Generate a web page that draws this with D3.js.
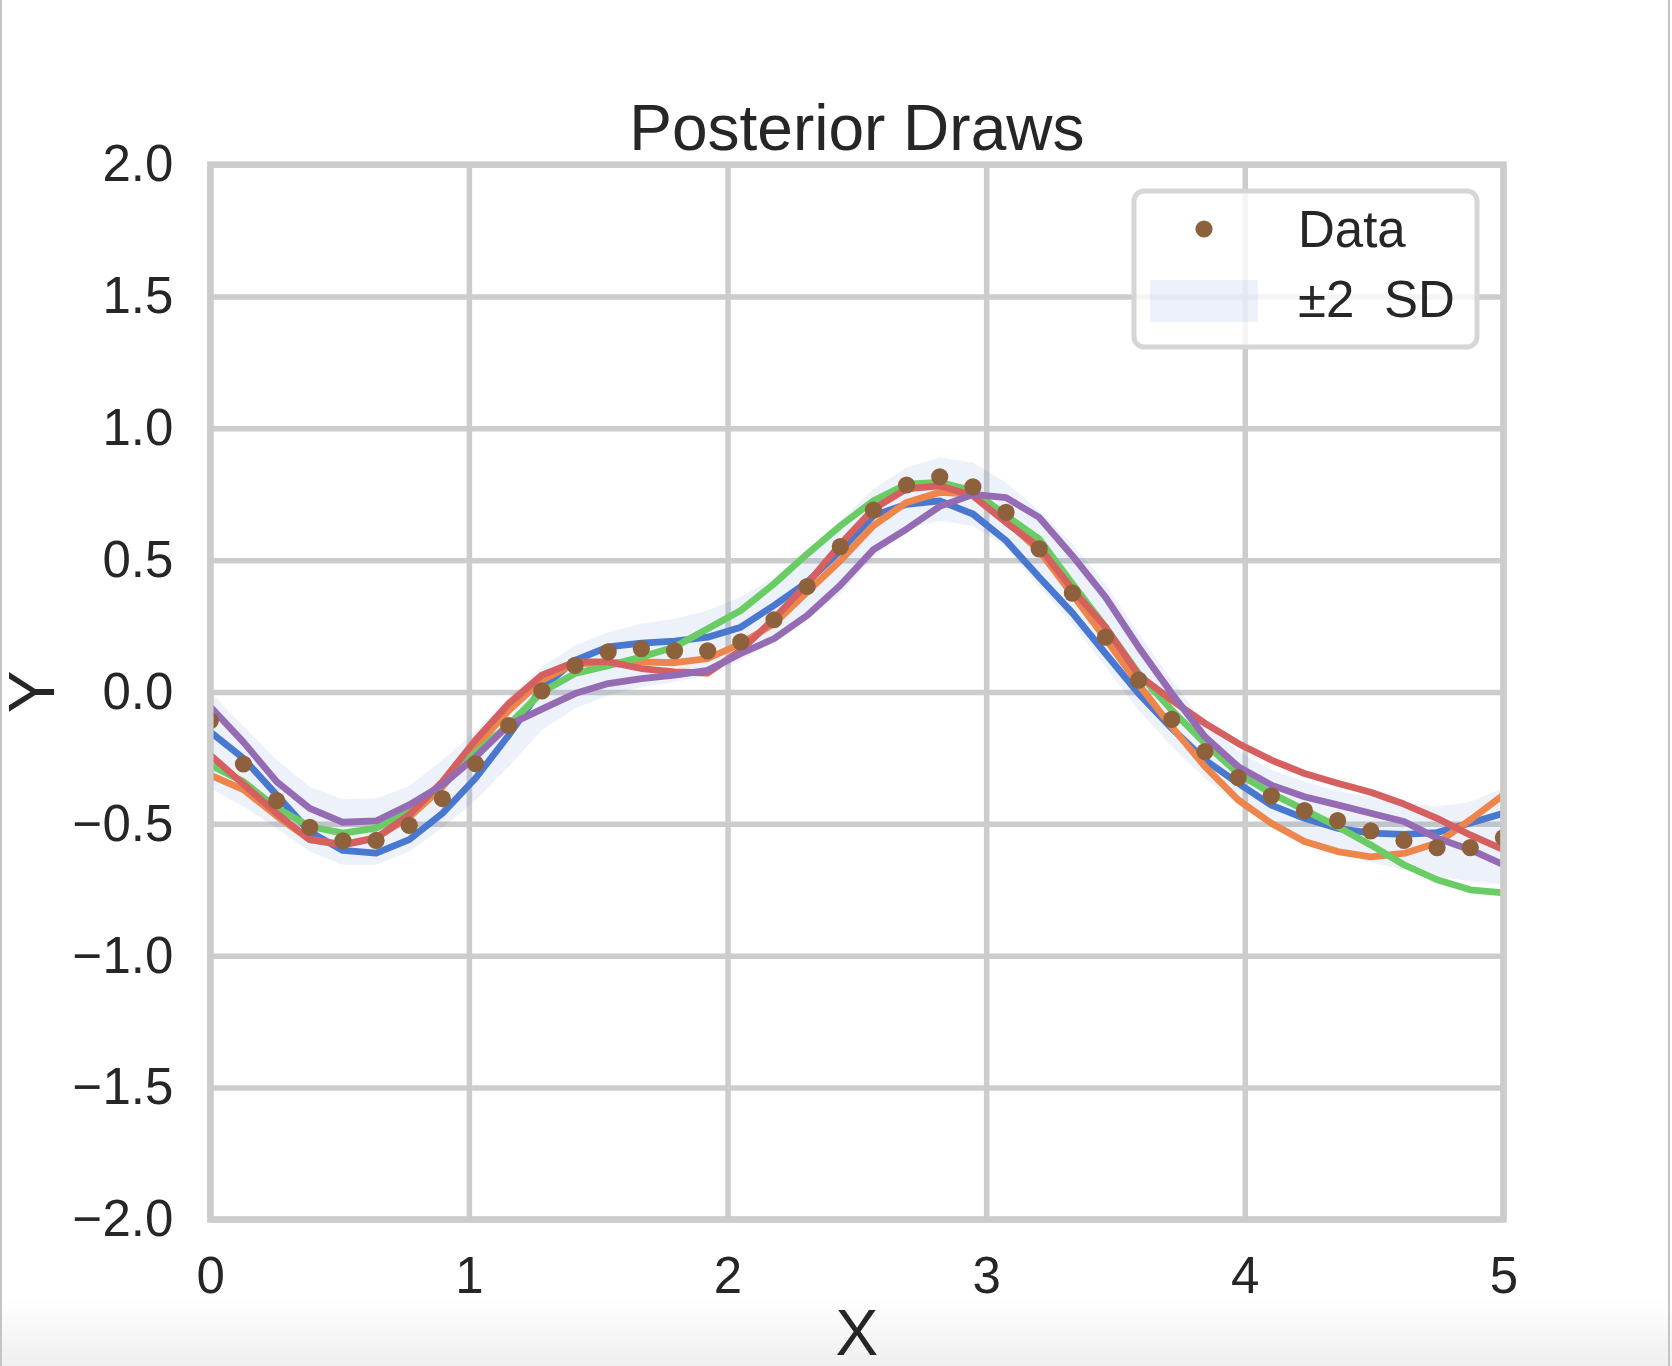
<!DOCTYPE html>
<html>
<head>
<meta charset="utf-8">
<script src="https://cdn.jsdelivr.net/npm/d3@7"></script>
<style>
  html, body { margin: 0; padding: 0; background: #ffffff; }
  svg { display: block; font-family: "Liberation Sans", Arial, Helvetica, sans-serif; }
</style>
</head>
<body>
<svg id="chart" width="1672" height="1366"></svg>
<script>
// ---------------- data ----------------
const xValues = [0.0000, 0.1282, 0.2564, 0.3846, 0.5128, 0.6410, 0.7692, 0.8974, 1.0256, 1.1538,
  1.2821, 1.4103, 1.5385, 1.6667, 1.7949, 1.9231, 2.0513, 2.1795, 2.3077, 2.4359,
  2.5641, 2.6923, 2.8205, 2.9487, 3.0769, 3.2051, 3.3333, 3.4615, 3.5897, 3.7179,
  3.8462, 3.9744, 4.1026, 4.2308, 4.3590, 4.4872, 4.6154, 4.7436, 4.8718, 5.0000];

const dataY = [-0.109, -0.273, -0.412, -0.513, -0.564, -0.563, -0.506, -0.404, -0.272, -0.127,
  0.004, 0.101, 0.152, 0.164, 0.156, 0.156, 0.190, 0.274, 0.400, 0.551,
  0.690, 0.785, 0.816, 0.778, 0.681, 0.543, 0.375, 0.208, 0.045, -0.104,
  -0.226, -0.325, -0.394, -0.450, -0.488, -0.527, -0.563, -0.590, -0.590, -0.552];

const bandUpper = [0.000, -0.130, -0.258, -0.359, -0.407, -0.403, -0.356, -0.258, -0.150, -0.020,
  0.095, 0.177, 0.227, 0.259, 0.278, 0.309, 0.360, 0.435, 0.536, 0.650,
  0.770, 0.851, 0.889, 0.870, 0.794, 0.687, 0.562, 0.410, 0.221, 0.045,
  -0.120, -0.225, -0.295, -0.340, -0.375, -0.400, -0.418, -0.434, -0.416, -0.365];

const bandLower = [-0.365, -0.434, -0.516, -0.605, -0.655, -0.655, -0.605, -0.516, -0.410, -0.283,
  -0.144, -0.063, -0.012, 0.019, 0.038, 0.064, 0.120, 0.190, 0.278, 0.372,
  0.511, 0.618, 0.649, 0.630, 0.549, 0.398, 0.259, 0.095, -0.069, -0.207,
  -0.327, -0.428, -0.510, -0.570, -0.610, -0.645, -0.675, -0.700, -0.718, -0.730];

const drawBlue = [-0.151, -0.252, -0.390, -0.530, -0.601, -0.611, -0.560, -0.460, -0.327, -0.164,
  0.015, 0.120, 0.171, 0.185, 0.193, 0.208, 0.246, 0.328, 0.416, 0.536,
  0.669, 0.712, 0.725, 0.675, 0.574, 0.435, 0.300, 0.146, -0.006, -0.138,
  -0.258, -0.346, -0.429, -0.479, -0.517, -0.535, -0.540, -0.533, -0.497, -0.460];

const drawOrange = [-0.315, -0.370, -0.470, -0.560, -0.578, -0.552, -0.475, -0.360, -0.210, -0.070,
  0.045, 0.108, 0.110, 0.114, 0.111, 0.127, 0.183, 0.259, 0.379, 0.498,
  0.631, 0.719, 0.757, 0.750, 0.650, 0.536, 0.370, 0.202, 0.028, -0.132,
  -0.283, -0.409, -0.498, -0.567, -0.605, -0.625, -0.612, -0.573, -0.485, -0.390];

const drawGreen = [-0.277, -0.340, -0.440, -0.510, -0.535, -0.516, -0.455, -0.350, -0.230, -0.125,
  0.000, 0.070, 0.100, 0.133, 0.171, 0.240, 0.309, 0.410, 0.523, 0.630,
  0.725, 0.788, 0.795, 0.763, 0.669, 0.580, 0.410, 0.246, 0.070, -0.069,
  -0.195, -0.309, -0.384, -0.447, -0.511, -0.580, -0.655, -0.712, -0.750, -0.762];

const drawRed = [-0.239, -0.350, -0.460, -0.560, -0.580, -0.554, -0.466, -0.340, -0.182, -0.044,
  0.064, 0.114, 0.114, 0.089, 0.076, 0.072, 0.158, 0.278, 0.410, 0.560,
  0.694, 0.770, 0.782, 0.744, 0.643, 0.549, 0.390, 0.246, 0.064, -0.031,
  -0.119, -0.195, -0.258, -0.309, -0.346, -0.380, -0.425, -0.479, -0.542, -0.598];

const drawPurple = [-0.056, -0.190, -0.340, -0.441, -0.494, -0.489, -0.428, -0.352, -0.246, -0.125,
  -0.065, -0.006, 0.032, 0.051, 0.064, 0.082, 0.146, 0.202, 0.290, 0.405,
  0.540, 0.618, 0.704, 0.749, 0.737, 0.662, 0.517, 0.360, 0.170, -0.006,
  -0.170, -0.283, -0.353, -0.397, -0.428, -0.460, -0.491, -0.554, -0.598, -0.655];

const drawSeries = [drawBlue, drawOrange, drawGreen, drawRed, drawPurple];
const drawColors = ["#4878d0", "#ee854a", "#6acc64", "#d65f5f", "#956cb4"];
const dataColor = "#8c613c";
const bandColor = "#4878d0";

const xTicks = [0, 1, 2, 3, 4, 5];
const yTicks = [-2.0, -1.5, -1.0, -0.5, 0.0, 0.5, 1.0, 1.5, 2.0];
const titleText = "Posterior Draws";
const xLabel = "X";
const yLabel = "Y";
const legendLabels = ["Data", "\u00b12 SD"];

// ---------------- layout ----------------
const W = 1672, H = 1366;
const pL = 210.3, pR = 1503.4, pT = 164.6, pB = 1219.4;
const svg = d3.select("#chart");

const x = d3.scaleLinear().domain([0, 5]).range([pL, pR]);
const y = d3.scaleLinear().domain([-2, 2]).range([pB, pT]);

// page decorations (screenshot frame)
const defs = svg.append("defs");
const grad = defs.append("linearGradient").attr("id", "fade").attr("x1", 0).attr("y1", 0).attr("x2", 0).attr("y2", 1);
grad.append("stop").attr("offset", "0%").attr("stop-color", "#ffffff");
grad.append("stop").attr("offset", "100%").attr("stop-color", "#efefef");
svg.append("rect").attr("x", 0).attr("y", 1298).attr("width", W).attr("height", H - 1298).attr("fill", "url(#fade)");
svg.append("line").attr("x1", 1).attr("x2", 1).attr("y1", 0).attr("y2", H).attr("stroke", "#c4c4c4").attr("stroke-width", 2);
svg.append("line").attr("x1", 1669).attr("x2", 1669).attr("y1", 0).attr("y2", H).attr("stroke", "#c4c4c4").attr("stroke-width", 2);

defs.append("clipPath").attr("id", "plotclip")
  .append("rect").attr("x", pL).attr("y", pT).attr("width", pR - pL).attr("height", pB - pT);

const gridColor = "#cccccc";
const tickFont = 51;

// gridlines + tick labels via d3 axes
const xAxis = d3.axisBottom(x).tickValues(xTicks).tickFormat(d3.format("d"))
  .tickSize(-(pB - pT)).tickPadding(37);
const gx = svg.append("g").attr("transform", `translate(0,${pB})`).call(xAxis);
gx.select(".domain").remove();
gx.selectAll(".tick line").attr("stroke", gridColor).attr("stroke-width", 5.5);
gx.selectAll(".tick text").attr("fill", "#262626").style("font-size", tickFont + "px")
  .style("font-family", '"Liberation Sans", Arial, sans-serif');

const fmtY = d => d3.format(".1f")(d).replace("-", "\u2212");
const yAxis = d3.axisLeft(y).tickValues(yTicks).tickFormat(fmtY)
  .tickSize(-(pR - pL)).tickPadding(37);
const gy = svg.append("g").attr("transform", `translate(${pL},0)`).call(yAxis);
gy.select(".domain").remove();
gy.selectAll(".tick line").attr("stroke", gridColor).attr("stroke-width", 5.5);
gy.selectAll(".tick text").attr("fill", "#262626").style("font-size", tickFont + "px")
  .style("font-family", '"Liberation Sans", Arial, sans-serif');

// plot content (clipped)
const plot = svg.append("g").attr("clip-path", "url(#plotclip)");

const area = d3.area()
  .x((d, i) => x(xValues[i]))
  .y0((d, i) => y(bandLower[i]))
  .y1((d, i) => y(bandUpper[i]));
plot.append("path").datum(xValues).attr("d", area)
  .attr("fill", bandColor).attr("fill-opacity", 0.1);

const line = d3.line().x((d, i) => x(xValues[i])).y(d => y(d));
drawSeries.forEach((s, j) => {
  plot.append("path").datum(s).attr("d", line)
    .attr("fill", "none").attr("stroke", drawColors[j]).attr("stroke-width", 6.8)
    .attr("stroke-linejoin", "round").attr("stroke-linecap", "butt");
});

plot.selectAll("circle.data").data(dataY).enter().append("circle")
  .attr("class", "data")
  .attr("cx", (d, i) => x(xValues[i])).attr("cy", d => y(d)).attr("r", 8.6)
  .attr("fill", dataColor);

// spines
svg.append("rect").attr("x", pL).attr("y", pT).attr("width", pR - pL).attr("height", pB - pT)
  .attr("fill", "none").attr("stroke", gridColor).attr("stroke-width", 6.5);

// title & axis labels
svg.append("text").attr("x", (pL + pR) / 2).attr("y", 150).attr("text-anchor", "middle")
  .attr("fill", "#262626").style("font-size", "64px").text(titleText);
svg.append("text").attr("x", (pL + pR) / 2).attr("y", 1355).attr("text-anchor", "middle")
  .attr("fill", "#262626").style("font-size", "64px").text(xLabel);
svg.append("text").attr("transform", `translate(54,${(pT + pB) / 2}) rotate(-90)`)
  .attr("text-anchor", "middle").attr("fill", "#262626").style("font-size", "64px").text(yLabel);

// legend
const lg = svg.append("g");
lg.append("rect").attr("x", 1134).attr("y", 191).attr("width", 343).attr("height", 156)
  .attr("rx", 10).attr("ry", 10)
  .attr("fill", "#ffffff").attr("fill-opacity", 0.8)
  .attr("stroke", "#d6d6d6").attr("stroke-width", 5);
lg.append("circle").attr("cx", 1204).attr("cy", 229).attr("r", 8.6).attr("fill", dataColor);
lg.append("rect").attr("x", 1150).attr("y", 280).attr("width", 108).attr("height", 42)
  .attr("fill", bandColor).attr("fill-opacity", 0.1);
lg.append("text").attr("x", 1298).attr("y", 247).attr("fill", "#262626").style("font-size", "51px").text(legendLabels[0]);
const sdText = lg.append("text").attr("x", 1298).attr("y", 317).attr("fill", "#262626").style("font-size", "51px");
const sdParts = legendLabels[1].split(" ");
sdText.append("tspan").text(sdParts[0]);
sdText.append("tspan").attr("x", 1384).text(sdParts[1]);
</script>
</body>
</html>
